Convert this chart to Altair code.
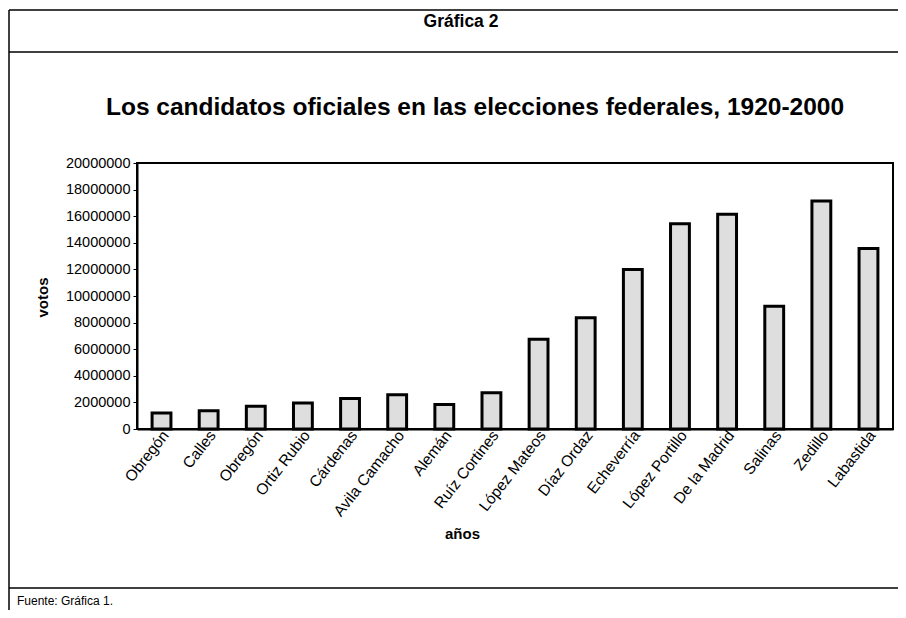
import altair as alt
import pandas as pd

candidatos = ["Obregón", "Calles", "Obregón ", "Ortiz Rubio", "Cárdenas", "Avila Camacho",
              "Alemán", "Ruíz Cortines", "López Mateos", "Díaz Ordaz", "Echeverría",
              "López Portillo", "De la Madrid", "Salinas", "Zedillo", "Labastida"]
votos = [1200000, 1380000, 1710000, 1950000, 2300000, 2580000,
         1850000, 2720000, 6740000, 8370000, 11990000,
         15440000, 16150000, 9220000, 17150000, 13580000]
y_ticks = [0, 2000000, 4000000, 6000000, 8000000, 10000000, 12000000,
           14000000, 16000000, 18000000, 20000000]

df = pd.DataFrame({"candidato": candidatos, "votos": votos})

FONT = "Liberation Sans"
W, H = 756, 266

bars = alt.Chart(df).mark_bar(fill="#dedede", stroke="black", strokeWidth=3).encode(
    x=alt.X("candidato:N", sort=candidatos,
            scale=alt.Scale(paddingInner=0.6, paddingOuter=0.32),
            axis=alt.Axis(title="años", labelAngle=308, labelFontSize=15.5, labelFont=FONT,
                          labelColor="black", labelPadding=3, labelOffset=4, ticks=False,
                          domainColor="black", domainWidth=2,
                          titleFont=FONT, titleFontSize=15, titleFontWeight="bold",
                          titleColor="black", titleX=325, titleY=104,
                          titleBaseline="middle", titleAnchor="start", titleAlign="center")),
    y=alt.Y("votos:Q", scale=alt.Scale(domain=[0, 20000000], nice=False),
            axis=alt.Axis(title="votos", values=y_ticks, format="d", labelFontSize=14.5,
                          labelFont=FONT, labelColor="black", labelPadding=3,
                          tickColor="black", tickSize=4, grid=False,
                          domainColor="black", domainWidth=2,
                          titleFont=FONT, titleFontSize=15, titleFontWeight="bold",
                          titleColor="black", titleX=-95, titleY=134, titleAngle=270,
                          titleBaseline="middle", titleAlign="center", titleAnchor="start")),
)

one = alt.Data(values=[{"a": 1}])

def hline(y, x1, x2, w=1.5):
    return alt.Chart(one).mark_rule(color="black", strokeWidth=w).encode(
        x=alt.value(x1), x2=alt.value(x2), y=alt.value(y))

def vline(x, y1, y2, w=1.5):
    return alt.Chart(one).mark_rule(color="black", strokeWidth=w).encode(
        x=alt.value(x), y=alt.value(y1), y2=alt.value(y2))

def label(text, x, y, size, bold=True, align="center"):
    return alt.Chart(one).mark_text(text=text, font=FONT, fontSize=size,
                                    fontWeight="bold" if bold else "normal",
                                    align=align, baseline="middle", color="black").encode(
        x=alt.value(x), y=alt.value(y))

frame = [
    hline(-153, -128, 761),
    hline(-111, -128, 761),
    hline(425, -128, 761),
    vline(-128, -153, 447),
    label("Gráfica 2", 324, -141, 17.5),
    label("Los candidatos oficiales en las elecciones federales, 1920-2000", 338, -55, 24.5),
    label("Fuente: Gráfica 1.", -120, 438, 12, bold=False, align="left"),
]

chart = alt.layer(bars, *frame).properties(
    width=W, height=H,
    autosize=alt.AutoSizeParams(type="none"),
    padding={"left": 129, "top": 155, "right": 5, "bottom": 181},
    background="white",
).configure_view(stroke="black", strokeWidth=2)

chart.save("out.html", embed_options={"renderer": "svg", "actions": False})
